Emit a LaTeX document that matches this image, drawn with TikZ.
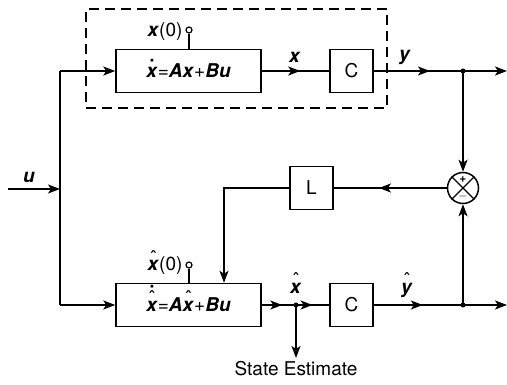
\documentclass[tikz,border=0pt]{standalone}
\usepackage{fontspec}
\setmainfont{TeX Gyre Heros}
\usetikzlibrary{arrows.meta, positioning, decorations.markings}

\newcommand{\bv}[1]{\textbf{\textit{#1}}}
\newcommand{\hatv}[1]{\ooalign{\bv{#1}\cr\hidewidth\raisebox{0.36em}{\symbol{"02C6}}\hidewidth\cr}}
\newcommand{\dotv}[1]{\ooalign{\bv{#1}\cr\hidewidth\raisebox{0.22em}{\bfseries\symbol{"02D9}}\hidewidth\cr}}
\newcommand{\dothatv}[1]{\ooalign{\bv{#1}\cr\hidewidth\raisebox{0.36em}{\symbol{"02C6}}\hidewidth\cr\hidewidth\raisebox{0.66em}{\bfseries\symbol{"02D9}}\hidewidth\cr}}

\begin{document}
\begin{tikzpicture}[x=1pt, y=-1pt,
    font=\fontsize{19}{21}\selectfont,
    line/.style={line width=1.5pt},
    box/.style={draw, line width=1.5pt, minimum height=43pt, inner sep=0pt},
    arrow/.style={line, -{Stealth[length=12pt, width=9pt, inset=3pt]}},
    midarrow/.style={line, postaction={decorate}, decoration={markings,
        mark=at position #1 with {\arrow{Stealth[length=12pt, width=9pt, inset=3pt]}}}},
    dot/.style={circle, fill, inner sep=0pt, minimum size=5pt},
    ic/.style={circle, draw, line width=1.2pt, inner sep=0pt, minimum size=6pt}
  ]
    \useasboundingbox (0,0) rectangle (507,385);

    % Plant (dashed frame)
    \node[draw, line width=1.5pt, dash pattern=on 10pt off 6pt,
          minimum width=301pt, minimum height=99pt] (frame) at (236.5,58.5) {};
    \node[box, minimum width=145pt] (plant) at (188.5,71) {\dotv{x}=\bv{Ax}+\bv{Bu}};
    \node[box, minimum width=43pt] (outC) at (351.5,71) {C};

    % Observer
    \node[box, minimum width=145pt] (obs) at (188.5,305) {\dothatv{x}=\bv{A}\hatv{x}+\bv{Bu}};
    \node[box, minimum width=43pt] (estC) at (351.5,305) {C};

    % Gain and comparator
    \node[box, minimum width=43pt] (gain) at (311.5,188) {L};
    \node[circle, draw, line width=1.5pt, minimum size=31pt, inner sep=0pt] (sum) at (463,188) {};
    \draw[line width=1.2pt] (sum.north west) -- (sum.south east)
                            (sum.north east) -- (sum.south west);
    \node[font=\fontsize{12}{12}\selectfont\bfseries] (plus) at (463,179.5) {+};
    \node[font=\fontsize{12}{12}\selectfont] (minus) at (463,197) {$-$};

    % Initial conditions
    \node[ic] (x0) at (189,30) {};
    \node[ic] (xh0) at (189,265) {};
    \draw[line] (x0) -- (x0 |- plant.north);
    \draw[line] (xh0) -- (xh0 |- obs.north);
    \node[anchor=east] (x0lab) at (186,32) {\bv{x}(0)};
    \node[anchor=east] (xh0lab) at (186,266) {\hatv{x}(0)};

    % Input bus
    \coordinate (uin) at (8,189);
    \coordinate (bus) at (60,189);
    \coordinate (busT) at (60,71);
    \coordinate (busB) at (60,305);
    \draw[arrow] (uin) -- (bus);
    \draw[line] (busT) -- (busB);
    \draw[arrow] (busT) -- (plant.west);
    \draw[arrow] (busB) -- (obs.west);
    \node (ulab) at (29,177) {\bv{u}};

    % Plant output
    \coordinate (ytap) at (463,71);
    \coordinate (yout) at (507,71);
    \draw[midarrow=0.57] (plant) -- (outC);
    \draw[midarrow=0.63] (outC) -- (ytap);
    \draw[arrow] (ytap) -- (yout);
    \draw[arrow] (ytap) -- (sum.north);
    \node[dot] at (ytap) {};
    \node (xlab) at (295,57) {\bv{x}};
    \node (ylab) at (405,57) {\bv{y}};

    % Observer output
    \coordinate (xtap) at (296,305);
    \coordinate (est) at (296,358);
    \coordinate (yhtap) at (463,305);
    \coordinate (yhout) at (507,305);
    \draw[midarrow=0.6] (obs) -- (xtap);
    \draw[midarrow=0.5] (xtap) -- (estC);
    \draw[arrow] (xtap) -- (est);
    \draw[midarrow=0.55] (estC) -- (yhtap);
    \draw[arrow] (yhtap) -- (yhout);
    \draw[arrow] (yhtap) -- (sum.south);
    \node[dot] at (xtap) {};
    \node[dot] at (yhtap) {};
    \node (xhlab) at (296,288) {\hatv{x}};
    \node (yhlab) at (407,288) {\hatv{y}};
    \node[anchor=north] (estlab) at (est) {State Estimate};

    % Feedback
    \coordinate (lbend) at (224,188);
    \draw[midarrow=0.6] (sum) -- (gain);
    \draw[arrow] (gain.west) -- (lbend) -- (lbend |- obs.north);
\end{tikzpicture}
\end{document}
